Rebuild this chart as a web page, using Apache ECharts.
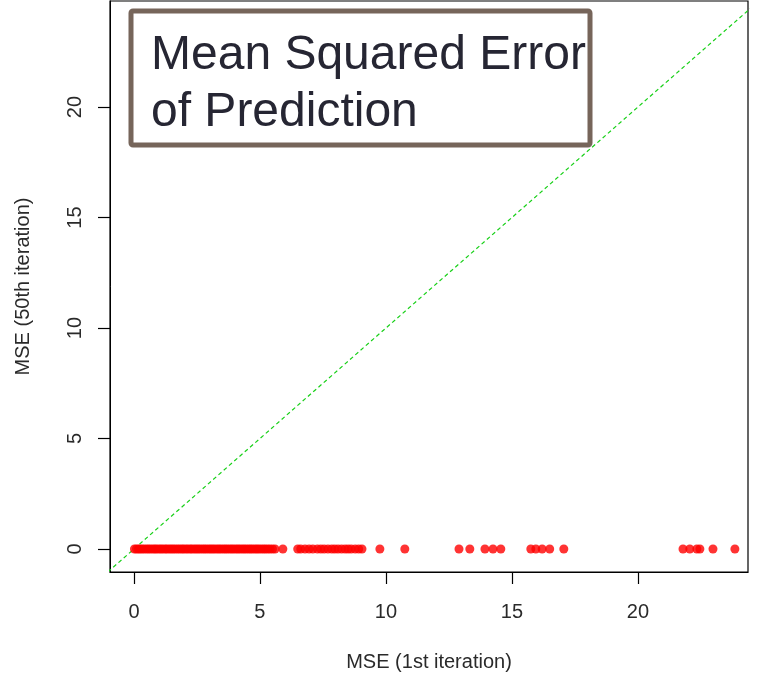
<!DOCTYPE html>
<html>
<head>
<meta charset="utf-8">
<script src="https://cdn.jsdelivr.net/npm/echarts@6/dist/echarts.min.js"></script>
<style>
  html, body { margin: 0; padding: 0; background: #fff; }
  #chart { width: 764px; height: 677px; }
</style>
</head>
<body>
<div id="chart"></div>
<script>
// MSE of each case at the 1st iteration (x); all reach 0 at the 50th iteration (y)
var mseFirst = [
  0.02, 0.1, 0.18, 0.25, 0.33, 0.41, 0.5, 0.58, 0.66, 0.75, 0.83, 0.9, 0.99,
  1.07, 1.15, 1.24, 1.31, 1.4, 1.48, 1.56, 1.64, 1.73, 1.81, 1.9, 1.97,
  2.06, 2.14, 2.23, 2.3, 2.39, 2.47, 2.55, 2.63, 2.72, 2.8, 2.88, 2.97,
  3.05, 3.13, 3.21, 3.3, 3.38, 3.46, 3.55, 3.63, 3.71, 3.8, 3.88, 3.96,
  4.05, 4.13, 4.21, 4.3, 4.38, 4.46, 4.55, 4.63, 4.71, 4.8, 4.88, 4.96,
  5.05, 5.14, 5.22, 5.31, 5.4, 5.5, 5.6,
  5.91,
  6.5, 6.62, 6.79, 6.95, 7.1, 7.28, 7.42, 7.55, 7.7, 7.85, 7.97, 8.1, 8.24,
  8.38, 8.5, 8.62, 8.78, 8.92, 9.05,
  9.76, 10.75,
  12.9, 13.33, 13.93, 14.25, 14.56,
  15.75, 15.95, 16.2, 16.5, 17.06,
  21.79, 22.06, 22.34, 22.46, 22.98, 23.85
];
var mseFiftieth = [
  0, 0, 0, 0, 0, 0, 0, 0, 0, 0, 0, 0, 0,
  0, 0, 0, 0, 0, 0, 0, 0, 0, 0, 0, 0,
  0, 0, 0, 0, 0, 0, 0, 0, 0, 0, 0, 0,
  0, 0, 0, 0, 0, 0, 0, 0, 0, 0, 0, 0,
  0, 0, 0, 0, 0, 0, 0, 0, 0, 0, 0, 0,
  0, 0, 0, 0, 0, 0, 0,
  0,
  0, 0, 0, 0, 0, 0, 0, 0, 0, 0, 0, 0, 0,
  0, 0, 0, 0, 0, 0,
  0, 0,
  0, 0, 0, 0, 0,
  0, 0, 0, 0, 0,
  0, 0, 0, 0, 0, 0
];
// Reference line y = x (identity), given by two end values
var identityEnds = [-5, 30];
var xTicks = [0, 5, 10, 15, 20];
var yTicks = [0, 5, 10, 15, 20];
var xRange = [-0.95, 24.37];
var yRange = [-1.04, 24.8];
var xTitle = 'MSE (1st iteration)';
var yTitle = 'MSE (50th iteration)';
var boxLines = ['Mean Squared Error', 'of Prediction'];

var points = mseFirst.map(function (v, i) { return [v, mseFiftieth[i]]; });
var identity = identityEnds.map(function (v) { return [v, v]; });

var FONT = '"Liberation Sans", Arial, sans-serif';
var chart = echarts.init(document.getElementById('chart'), null, { renderer: 'canvas' });

function axisCommon(ticks) {
  return {
    type: 'value',
    axisLine: { show: true, onZero: false, lineStyle: { color: '#000', width: 1 } },
    axisTick: { show: true, length: 12, customValues: ticks, lineStyle: { color: '#000', width: 1.2 } },
    splitLine: { show: false },
    nameLocation: 'middle',
    nameTextStyle: { fontFamily: FONT, fontSize: 20, color: '#2a2a2a' }
  };
}

var xAxis = axisCommon(xTicks);
xAxis.min = xRange[0];
xAxis.max = xRange[1];
xAxis.name = xTitle;
xAxis.nameGap = 80;
xAxis.axisLabel = { customValues: xTicks, margin: 30, fontFamily: FONT, fontSize: 20, color: '#2a2a2a' };

var yAxis = axisCommon(yTicks);
yAxis.min = yRange[0];
yAxis.max = yRange[1];
yAxis.name = yTitle;
yAxis.nameGap = 77;
yAxis.axisLabel = { customValues: yTicks, rotate: 90, margin: 25, fontFamily: FONT, fontSize: 20, color: '#2a2a2a' };

chart.setOption({
  animation: false,
  backgroundColor: '#fff',
  grid: {
    left: 110, right: 16, top: 1, bottom: 105,
    show: true, borderColor: '#000', borderWidth: 1.2, backgroundColor: 'transparent'
  },
  xAxis: xAxis,
  yAxis: yAxis,
  series: [
    {
      type: 'line',
      data: identity,
      symbol: 'none',
      clip: true,
      silent: true,
      lineStyle: { color: '#18d018', width: 1.2, type: [4, 3] },
      z: 2
    },
    {
      type: 'scatter',
      data: points,
      symbol: 'circle',
      symbolSize: 9,
      itemStyle: { color: '#ff0000' },
      z: 3
    }
  ],
  graphic: [
    {
      type: 'rect',
      shape: { x: 131, y: 11, width: 459, height: 134, r: 2 },
      style: { fill: '#fff', stroke: '#76655a', lineWidth: 5 },
      z: 10
    },
    {
      type: 'text',
      left: 151,
      top: 27,
      style: {
        text: boxLines.join('\n'),
        font: '48px ' + FONT,
        lineHeight: 57,
        fill: '#262633'
      },
      z: 11
    }
  ]
});
</script>
</body>
</html>
